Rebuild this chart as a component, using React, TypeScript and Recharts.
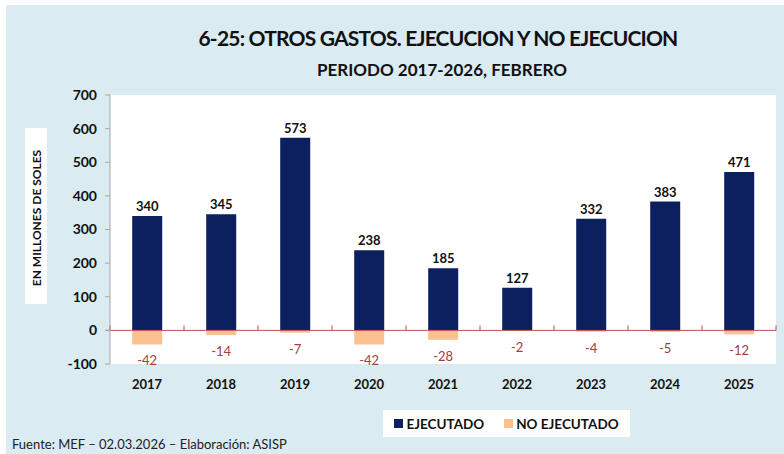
import * as Recharts from 'recharts'
import {
  BarChart,
  Bar,
  XAxis,
  YAxis,
  CartesianGrid,
  ReferenceLine,
  LabelList,
  Legend,
} from 'recharts'

const years = ['2017', '2018', '2019', '2020', '2021', '2022', '2023', '2024', '2025']
const ejecutado = [340, 345, 573, 238, 185, 127, 332, 383, 471]
const noEjecutado = [-42, -14, -7, -42, -28, -2, -4, -5, -12]
const yTicks = [-100, 0, 100, 200, 300, 400, 500, 600, 700]

const data = years.map((year, i) => ({
  year,
  ejecutado: ejecutado[i],
  noEjecutado: noEjecutado[i],
}))

const FONT = 'Lato, "Open Sans", sans-serif'
const NAVY = '#0C1F5E'
const PEACH = '#FAC090'
const BG = '#DAEBF1'

// small tick marks on the zero line, at category boundaries
function ZeroTicks() {
  const usePlot = (Recharts as any).usePlotArea
  const area = usePlot ? usePlot() : null
  if (!area) return null
  const [lo, hi] = [yTicks[0], yTicks[yTicks.length - 1]]
  const y0 = area.y + (area.height * hi) / (hi - lo)
  const step = area.width / years.length
  return (
    <g>
      <line x1={area.x - 4} x2={area.x} y1={y0} y2={y0} stroke="#C0504D" />
      {Array.from({ length: years.length + 1 }, (_, i) => (
        <line
          key={i}
          x1={area.x + step * i}
          x2={area.x + step * i}
          y1={y0}
          y2={y0 - 5}
          stroke="#C0504D"
          strokeWidth={1}
        />
      ))}
    </g>
  )
}

function NegLabel(props: any) {
  const { x, y, width, height, value } = props
  const bottom = Math.max(y, y + height)
  return (
    <text
      x={x + width / 2}
      y={bottom + 21}
      textAnchor="middle"
      fill="#A0403E"
      fontSize={13}
      fontFamily={FONT}
    >
      {value}
    </text>
  )
}

function LegendBox({ payload }: any) {
  return (
    <div
      style={{
        background: '#fff',
        height: 27,
        display: 'flex',
        alignItems: 'center',
        justifyContent: 'center',
        gap: 20,
        fontFamily: FONT,
        fontWeight: 700,
        fontSize: 13.5,
        color: '#111',
      }}
    >
      {(payload || []).map((p: any) => (
        <span key={p.value} style={{ display: 'flex', alignItems: 'center' }}>
          <span style={{ width: 9, height: 9, background: p.color, marginRight: 3 }} />
          {p.value}
        </span>
      ))}
    </div>
  )
}

export default function App() {
  return (
    <div style={{ position: 'relative', width: 784, height: 454, background: '#fff', fontFamily: FONT }}>
      <style>{'body{margin:0}'}</style>
      <div style={{ position: 'absolute', left: 6, top: 5, right: 0, bottom: 0, background: BG }} />
      <div
        style={{
          position: 'absolute',
          left: 0,
          width: 784,
          top: 25,
          textAlign: 'center',
          paddingLeft: 92,
          boxSizing: 'border-box',
          fontWeight: 700,
          fontSize: 21,
          color: '#111',
          letterSpacing: -0.8,
        }}
      >
        6-25: OTROS GASTOS. EJECUCION Y NO EJECUCION
      </div>
      <div
        style={{
          position: 'absolute',
          left: 0,
          width: 784,
          top: 59,
          textAlign: 'center',
          paddingLeft: 100,
          boxSizing: 'border-box',
          fontWeight: 700,
          fontSize: 17,
          color: '#111',
        }}
      >
        PERIODO 2017-2026, FEBRERO
      </div>
      <div
        style={{
          position: 'absolute',
          left: 25,
          top: 128,
          width: 22,
          height: 176,
          background: '#fff',
        }}
      />
      <div
        style={{
          position: 'absolute',
          left: 36,
          top: 218,
          transform: 'translate(-50%, -50%) rotate(-90deg)',
          whiteSpace: 'nowrap',
          fontWeight: 700,
          fontSize: 12,
          color: '#111',
        }}
      >
        EN MILLONES DE SOLES
      </div>
      <div
        style={{
          position: 'absolute',
          left: 12,
          top: 436,
          fontSize: 13,
          color: '#222',
        }}
      >
        Fuente: MEF – 02.03.2026 – Elaboración: ASISP
      </div>
      <div style={{ position: 'absolute', left: 0, top: 0 }}>
        <BarChart
          width={784}
          height={454}
          data={data}
          stackOffset="sign"
          barCategoryGap="30%"
          margin={{ top: 95, right: 8, bottom: 60, left: 60 }}
        >
          <CartesianGrid fill="#fff" stroke="none" horizontal={false} vertical={false} />
          <XAxis
            dataKey="year"
            axisLine={false}
            tickLine={false}
            tickMargin={10}
            height={30}
            tick={{ fill: '#111', fontSize: 13, fontWeight: 700, fontFamily: FONT }}
          />
          <YAxis
            domain={[yTicks[0], yTicks[yTicks.length - 1]]}
            ticks={yTicks}
            width={50}
            interval={0}
            axisLine={{ stroke: '#A6A6A6' }}
            tickLine={{ stroke: '#A6A6A6' }}
            tickSize={5}
            tickMargin={8}
            tick={{ fill: '#111', fontSize: 14, fontWeight: 700, fontFamily: FONT }}
          />
          <ReferenceLine y={0} stroke="#C0504D" strokeWidth={1} />
          <ZeroTicks />
          <Legend
            layout="horizontal"
            verticalAlign="middle"
            wrapperStyle={{ left: 383, top: 410, width: 247, height: 27 }}
            content={<LegendBox />}
          />
          <Bar dataKey="ejecutado" name="EJECUTADO" stackId="a" fill={NAVY} isAnimationActive={false}>
            <LabelList
              dataKey="ejecutado"
              position="top"
              offset={5}
              fill="#111"
              fontSize={13}
              fontWeight={700}
              fontFamily={FONT}
            />
          </Bar>
          <Bar dataKey="noEjecutado" name="NO EJECUTADO" stackId="a" fill={PEACH} isAnimationActive={false}>
            <LabelList dataKey="noEjecutado" content={<NegLabel />} />
          </Bar>
        </BarChart>
      </div>
    </div>
  )
}
